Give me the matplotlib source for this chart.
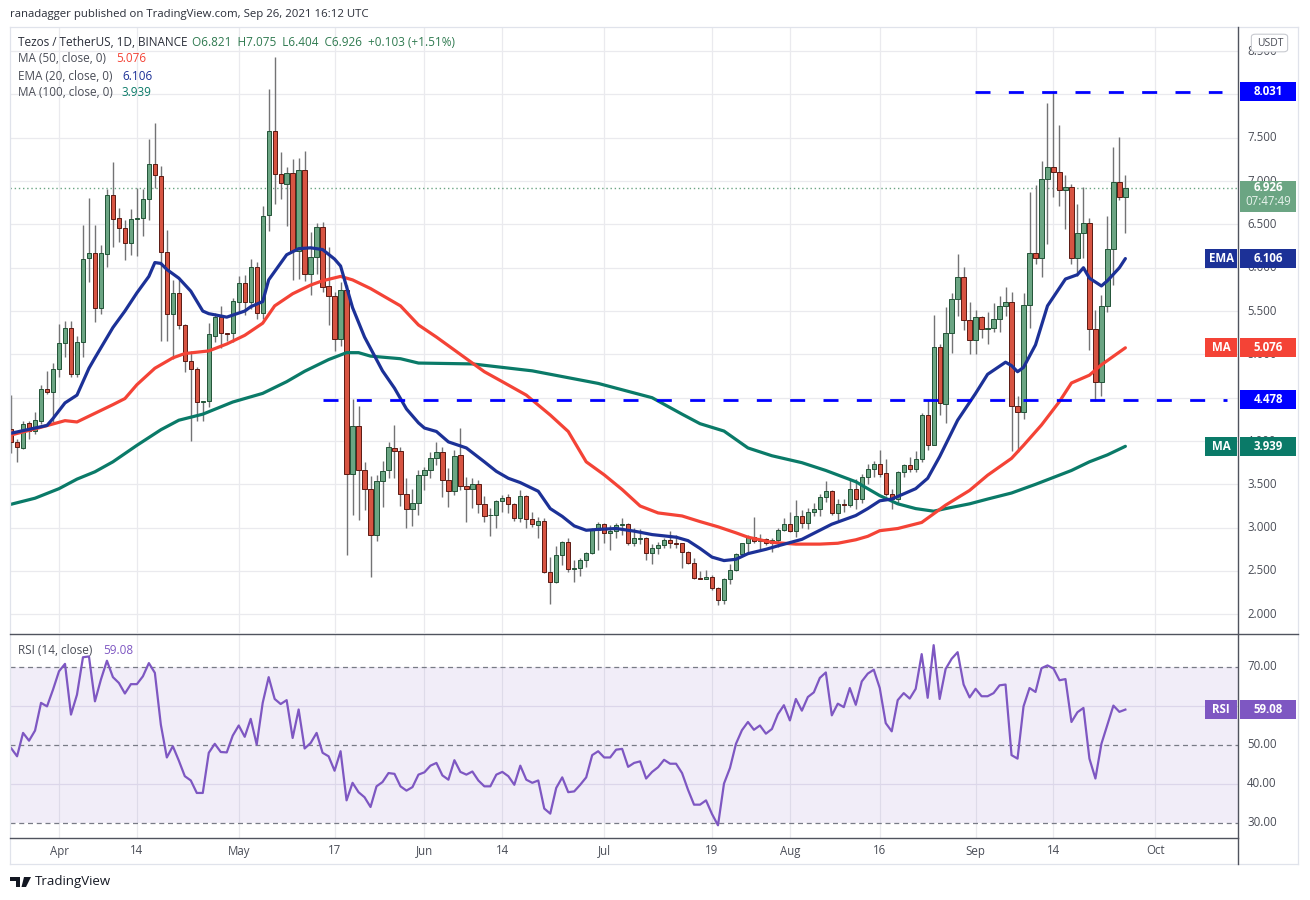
import matplotlib
matplotlib.use("Agg")
import matplotlib.pyplot as plt
import matplotlib.transforms as mtransforms
from matplotlib.patches import Rectangle, FancyBboxPatch, Polygon
import pandas as pd

plt.rcParams['font.family'] = ['Open Sans', 'DejaVu Sans']

# ---------------- data ----------------
dates = pd.date_range('2021-03-24', '2021-09-26', freq='D')

opens = [4.139, 3.993, 3.919, 4.208, 4.112, 4.235, 4.601, 4.563, 4.832, 5.133,
         5.306, 4.775, 5.141, 6.112, 6.170, 5.538, 6.162, 6.844, 6.578, 6.463,
         6.289, 6.567, 6.578, 6.798, 7.202, 7.060, 6.181, 5.461, 5.707, 5.341,
         4.921, 4.832, 4.455, 4.462, 5.211, 5.434, 5.250, 5.243, 5.610, 5.821,
         5.600, 6.008, 5.482, 6.606, 7.582, 7.084, 6.964, 7.096, 6.190, 7.127,
         5.932, 6.120, 6.470, 5.789, 5.673, 5.175, 5.741, 3.622, 4.179, 3.669,
         3.442, 2.912, 3.542, 3.669, 3.920, 3.880, 3.394, 3.211, 3.290, 3.608,
         3.665, 3.808, 3.869, 3.550, 3.423, 3.838, 3.480, 3.446, 3.504, 3.269,
         3.142, 3.146, 3.308, 3.350, 3.273, 3.108, 3.365, 3.100, 3.035, 3.077,
         2.485, 2.369, 2.685, 2.838, 2.523, 2.530, 2.627, 2.704, 2.973, 3.038,
         2.942, 2.960, 3.031, 3.046, 2.827, 2.865, 2.877, 2.704, 2.762, 2.796,
         2.854, 2.819, 2.819, 2.723, 2.588, 2.415, 2.412, 2.435, 2.300, 2.162,
         2.404, 2.512, 2.692, 2.819, 2.896, 2.846, 2.865, 2.819, 2.854, 2.969,
         3.038, 2.962, 3.135, 3.058, 3.185, 3.217, 3.353, 3.419, 3.170, 3.275,
         3.256, 3.442, 3.333, 3.585, 3.682, 3.733, 3.632, 3.390, 3.333, 3.643,
         3.721, 3.682, 3.791, 4.302, 3.953, 5.089, 4.430, 5.244, 5.640, 5.899,
         5.395, 5.163, 5.426, 5.290, 5.310, 5.407, 5.564, 5.602, 4.409, 4.332,
         5.575, 6.174, 6.116, 7.023, 7.158, 7.108, 6.896, 6.934, 6.108, 6.398,
         6.514, 5.297, 4.687, 5.564, 6.212, 6.992, 6.821]
highs = [4.536, 4.020, 4.235, 4.235, 4.339, 4.651, 4.813, 4.902, 5.353, 5.391,
         5.391, 5.218, 6.490, 6.809, 6.490, 6.258, 6.906, 7.222, 6.694, 6.547,
         6.682, 6.925, 6.906, 7.484, 7.676, 7.172, 6.432, 5.854, 5.854, 5.353,
         5.044, 4.852, 4.466, 5.364, 5.482, 5.562, 5.250, 5.653, 5.900, 5.920,
         6.100, 6.072, 6.717, 8.064, 8.430, 7.335, 7.163, 7.255, 7.263, 7.342,
         6.418, 6.518, 6.526, 6.239, 5.721, 5.840, 5.800, 4.486, 4.406, 3.757,
         3.598, 3.610, 3.769, 3.988, 4.187, 3.928, 3.578, 3.450, 3.665, 3.704,
         3.877, 3.990, 3.935, 3.692, 3.896, 4.146, 3.588, 3.569, 3.550, 3.369,
         3.230, 3.319, 3.377, 3.385, 3.281, 3.435, 3.377, 3.185, 3.127, 3.108,
         2.665, 2.792, 2.846, 2.885, 2.627, 2.646, 2.723, 2.992, 3.069, 3.050,
         3.030, 3.050, 3.115, 3.058, 2.992, 2.980, 2.892, 2.808, 2.835, 2.885,
         2.962, 2.915, 2.827, 2.731, 2.654, 2.500, 2.508, 2.454, 2.315, 2.423,
         2.577, 2.712, 2.827, 2.915, 3.123, 2.931, 2.885, 2.877, 2.992, 3.108,
         3.185, 3.315, 3.200, 3.223, 3.280, 3.390, 3.535, 3.430, 3.333, 3.326,
         3.566, 3.558, 3.624, 3.729, 3.767, 3.895, 3.798, 3.450, 3.651, 3.740,
         3.818, 3.888, 4.322, 4.477, 5.457, 5.124, 5.542, 5.705, 6.155, 6.008,
         5.609, 5.512, 5.446, 5.484, 5.593, 5.672, 5.776, 5.718, 4.514, 5.710,
         6.876, 6.958, 7.236, 7.900, 8.027, 7.653, 7.073, 6.965, 6.741, 6.934,
         6.571, 5.517, 5.683, 6.598, 7.398, 7.506, 7.075]
lows = [3.858, 3.754, 3.908, 4.023, 4.081, 4.197, 4.543, 4.216, 4.736, 4.967,
        4.736, 4.736, 4.967, 5.834, 5.372, 5.468, 6.008, 6.239, 6.297, 6.085,
        6.143, 6.131, 6.362, 6.547, 6.925, 5.160, 5.160, 4.948, 5.295, 4.794,
        4.004, 4.235, 4.235, 4.389, 5.143, 5.076, 5.160, 5.143, 5.482, 5.460,
        5.520, 5.410, 5.410, 6.430, 6.740, 6.797, 6.486, 5.860, 5.865, 5.849,
        5.681, 5.928, 5.721, 5.343, 5.036, 5.092, 2.685, 3.151, 3.092, 3.203,
        2.434, 2.841, 3.243, 3.570, 3.570, 3.250, 3.000, 3.020, 3.146, 3.435,
        3.569, 3.723, 3.358, 3.242, 3.377, 3.435, 3.069, 3.223, 3.165, 3.069,
        2.908, 2.992, 3.184, 3.173, 3.077, 3.069, 2.992, 3.012, 2.877, 2.473,
        2.115, 2.358, 2.569, 2.485, 2.377, 2.446, 2.550, 2.692, 2.742, 2.820,
        2.742, 2.877, 2.915, 2.800, 2.788, 2.808, 2.623, 2.585, 2.700, 2.769,
        2.762, 2.762, 2.538, 2.577, 2.404, 2.404, 2.404, 2.281, 2.108, 2.115,
        2.346, 2.504, 2.685, 2.723, 2.827, 2.750, 2.800, 2.723, 2.777, 2.962,
        2.954, 2.892, 3.000, 2.990, 3.140, 3.140, 3.295, 3.147, 3.093, 3.178,
        3.236, 3.217, 3.287, 3.508, 3.585, 3.585, 3.364, 3.217, 3.275, 3.585,
        3.643, 3.643, 3.760, 3.895, 3.953, 4.302, 4.213, 5.019, 5.446, 5.279,
        5.000, 5.000, 5.186, 5.116, 5.264, 5.259, 5.440, 3.884, 3.876, 4.255,
        5.305, 6.046, 5.896, 6.278, 6.819, 6.714, 6.444, 6.046, 5.903, 6.108,
        5.054, 4.463, 4.514, 5.490, 5.799, 6.780, 6.404]
closes = [3.985, 3.927, 4.197, 4.112, 4.243, 4.601, 4.563, 4.832, 5.133, 5.306,
          4.775, 5.141, 6.104, 6.170, 5.538, 6.170, 6.844, 6.567, 6.463, 6.289,
          6.567, 6.575, 6.798, 7.202, 7.068, 6.181, 5.461, 5.707, 5.334, 4.929,
          4.832, 4.447, 4.462, 5.237, 5.434, 5.251, 5.240, 5.614, 5.821, 5.600,
          6.008, 5.482, 6.598, 7.582, 7.084, 6.976, 7.096, 6.190, 7.127, 5.932,
          6.127, 6.470, 5.773, 5.673, 5.175, 5.741, 3.618, 4.179, 3.669, 3.442,
          2.912, 3.542, 3.657, 3.928, 3.880, 3.394, 3.211, 3.290, 3.608, 3.665,
          3.800, 3.869, 3.550, 3.423, 3.831, 3.480, 3.446, 3.504, 3.269, 3.135,
          3.146, 3.312, 3.346, 3.273, 3.108, 3.365, 3.100, 3.038, 3.080, 2.485,
          2.369, 2.685, 2.838, 2.523, 2.530, 2.627, 2.704, 2.973, 3.038, 2.942,
          2.960, 3.031, 3.042, 2.827, 2.877, 2.885, 2.704, 2.762, 2.796, 2.854,
          2.819, 2.815, 2.723, 2.588, 2.415, 2.412, 2.435, 2.300, 2.162, 2.404,
          2.512, 2.692, 2.819, 2.896, 2.846, 2.865, 2.819, 2.854, 2.969, 3.038,
          2.962, 3.135, 3.058, 3.185, 3.217, 3.353, 3.419, 3.170, 3.275, 3.256,
          3.442, 3.333, 3.585, 3.682, 3.740, 3.624, 3.390, 3.333, 3.643, 3.721,
          3.682, 3.791, 4.302, 3.953, 5.089, 4.438, 5.244, 5.640, 5.899, 5.395,
          5.163, 5.426, 5.290, 5.310, 5.407, 5.564, 5.602, 4.409, 4.332, 5.575,
          6.174, 6.116, 7.023, 7.158, 7.100, 6.896, 6.934, 6.116, 6.398, 6.514,
          5.297, 4.687, 5.564, 6.212, 6.992, 6.821, 6.926]

rsi = [49.2, 47.1, 53.1, 51.1, 53.7, 60.8, 59.9, 64.2, 68.9, 70.8,
       57.8, 62.9, 72.5, 72.7, 61.2, 66.8, 71.6, 67.4, 65.9, 63.2,
       65.6, 65.6, 67.6, 71.0, 68.5, 55.2, 46.8, 49.7, 46.0, 42.0,
       40.9, 37.7, 37.7, 48.0, 50.3, 48.2, 48.1, 52.4, 55.0, 52.1,
       56.7, 50.1, 60.8, 67.4, 61.8, 60.5, 61.5, 51.8, 59.1, 49.1,
       50.5, 53.1, 48.0, 47.1, 43.4, 48.4, 35.8, 40.3, 37.9, 36.6,
       34.1, 39.4, 40.5, 42.8, 42.6, 39.4, 38.3, 39.2, 42.4, 43.0,
       44.7, 45.4, 42.2, 41.1, 46.1, 43.1, 42.4, 43.2, 40.9, 39.4,
       39.4, 42.4, 43.1, 42.0, 39.8, 44.7, 41.1, 40.3, 40.9, 33.7,
       32.4, 39.0, 41.7, 37.9, 38.1, 39.8, 41.7, 47.4, 48.4, 46.8,
       46.8, 48.8, 49.0, 44.4, 45.4, 45.8, 41.4, 43.1, 44.3, 46.2,
       45.2, 45.2, 42.8, 38.5, 34.7, 34.7, 35.8, 32.3, 29.4, 40.1,
       44.1, 50.3, 53.8, 55.9, 53.9, 55.0, 52.9, 54.1, 57.9, 60.2,
       56.3, 61.8, 58.8, 62.3, 63.5, 67.2, 68.6, 57.6, 60.6, 59.7,
       64.6, 60.3, 66.3, 68.3, 69.3, 64.6, 55.6, 53.5, 61.5, 63.3,
       61.9, 64.4, 73.3, 62.1, 75.6, 61.8, 69.5, 72.1, 73.8, 65.5,
       62.2, 64.4, 62.5, 62.5, 63.3, 65.3, 65.5, 47.4, 46.5, 59.9,
       64.6, 63.6, 69.7, 70.4, 69.6, 66.6, 66.9, 55.9, 58.4, 59.5,
       46.5, 41.4, 50.3, 55.2, 60.1, 58.5, 59.08]

# indicator lines: (days after 1 Apr, value)
ema20_pts = [(-8, 4.09), (-2, 4.18), (-1, 4.26), (1, 4.44), (3, 4.53), (5, 4.84),
             (6, 4.96), (9, 5.31), (11, 5.50), (13, 5.71), (15, 5.90), (16, 6.06),
             (17, 6.05), (18, 5.98), (20, 5.88), (22, 5.73), (24, 5.50), (25, 5.47),
             (28, 5.43), (31, 5.50), (32, 5.55), (34, 5.61), (35, 5.86), (38, 6.15),
             (40, 6.22), (42, 6.23), (44, 6.21), (46, 6.10), (47, 6.02), (49, 5.54),
             (51, 5.20), (54, 4.81), (56, 4.61), (58, 4.37), (60, 4.21), (61, 4.15),
             (63, 4.11), (65, 3.99), (68, 3.92), (71, 3.76), (73, 3.65), (75, 3.57),
             (77, 3.52), (80, 3.42), (82, 3.22), (84, 3.13), (86, 3.02), (88, 2.97),
             (90, 2.98), (93, 2.99), (96, 2.96), (99, 2.92), (103, 2.89), (105, 2.85),
             (107, 2.76), (109, 2.66), (111, 2.62), (113, 2.635), (115, 2.70),
             (118, 2.75), (120, 2.79), (124, 2.865), (127, 2.97), (129, 3.04),
             (133, 3.14), (135, 3.22), (137, 3.31), (139, 3.33), (143, 3.45),
             (145, 3.57), (147, 3.82), (150, 4.24), (153, 4.55), (155, 4.77),
             (158, 4.91), (159, 4.87), (160, 4.80), (161, 4.85), (163, 5.11),
             (165, 5.56), (168, 5.87), (170, 5.92), (171, 6.00), (172, 5.88),
             (174, 5.79), (175, 5.85), (177, 6.00), (178, 6.106)]
ma50_pts = [(-8, 4.07), (-4, 4.14), (1, 4.235), (3, 4.22), (6, 4.32), (9, 4.42),
            (11, 4.49), (13, 4.65), (16, 4.84), (19, 4.96), (21, 5.01), (25, 5.04),
            (28, 5.12), (31, 5.22), (34, 5.36), (36, 5.56), (39, 5.70), (42, 5.80),
            (44, 5.85), (47, 5.90), (49, 5.86), (52, 5.76), (57, 5.56), (60, 5.34),
            (63, 5.20), (66, 5.05), (69, 4.90), (71, 4.80), (74, 4.685), (78, 4.53),
            (82, 4.30), (85, 4.11), (88, 3.76), (91, 3.61), (94, 3.44), (97, 3.25),
            (100, 3.17), (104, 3.135), (107, 3.07), (110, 3.01), (113, 2.94),
            (115, 2.89), (119, 2.83), (123, 2.81), (127, 2.81), (130, 2.82),
            (133, 2.86), (135, 2.90), (137, 2.965), (140, 2.99), (144, 3.06),
            (146, 3.16), (148, 3.26), (152, 3.43), (155, 3.605), (159, 3.80),
            (161, 3.95), (164, 4.185), (167, 4.456), (169, 4.67), (172, 4.76),
            (174, 4.88), (178, 5.076)]
ma100_pts = [(-8, 3.27), (-4, 3.34), (0, 3.45), (3, 3.56), (6, 3.645), (9, 3.76),
             (13, 3.95), (17, 4.13), (20, 4.24), (24, 4.31), (29, 4.45), (34, 4.55),
             (38, 4.685), (41, 4.805), (45, 4.94), (48, 5.02), (50, 5.02), (52, 4.98),
             (57, 4.95), (60, 4.90), (69, 4.89), (79, 4.81), (90, 4.665), (99, 4.50),
             (104, 4.31), (107, 4.20), (111, 4.115), (115, 3.92), (119, 3.83),
             (124, 3.75), (128, 3.66), (133, 3.53), (137, 3.37), (140, 3.275),
             (143, 3.22), (146, 3.19), (148, 3.22), (152, 3.275), (155, 3.33),
             (159, 3.40), (163, 3.50), (166, 3.58), (169, 3.66), (172, 3.76),
             (175, 3.84), (178, 3.939)]

support = 4.478
resistance = 8.031
last_price = 6.926
tick_dates = ['2021-04-01', '2021-04-14', '2021-05-01', '2021-05-17', '2021-06-01',
              '2021-06-14', '2021-07-01', '2021-07-19', '2021-08-01', '2021-08-16',
              '2021-09-01', '2021-09-14', '2021-10-01']
tick_labels = ['Apr', '14', 'May', '17', 'Jun', '14', 'Jul', '19', 'Aug', '16',
               'Sep', '14', 'Oct']
price_ticks = [2.0, 2.5, 3.0, 3.5, 4.0, 4.5, 5.0, 5.5, 6.0, 6.5, 7.0, 7.5, 8.0, 8.5]
rsi_ticks = [30, 40, 50, 60, 70]
# scale labels that sit fully under a value box in the reference
hidden_prices = [8.0, 4.5]
hidden_rsi = [60]

# ---------------- styling ----------------
UP, UP_EDGE = '#6ba583', '#225437'
DOWN, DOWN_EDGE = '#d75442', '#5b1a13'
WICK = '#737375'
C_EMA, C_MA50, C_MA100 = '#1c3197', '#f44336', '#0a7a68'
C_LVL = '#0000ff'
C_RSI = '#7e57c2'
GRID = '#eaeaee'
TXT = '#4a4d57'

W, H = 1310, 900
fig = plt.figure(figsize=(13.1, 9), dpi=100)
fig.patch.set_facecolor('white')


def fx(px):
    return px / W


def fy(py):
    return 1 - py / H


L, R = 10, 1238
ax = fig.add_axes([fx(L), fy(633), (R - L) / W, (633 - 27) / H])
ax2 = fig.add_axes([fx(L), fy(838), (R - L) / W, (838 - 634) / H])

APR1 = pd.Timestamp('2021-04-01')
x = (dates - APR1).days.values
xt = [(pd.Timestamp(t) - APR1).days for t in tick_dates]

for a in (ax, ax2):
    a.set_xlim(-8.18, 196.8)
    for s in a.spines.values():
        s.set_visible(False)
    a.set_xticks([])
    a.set_yticks([])
    for v in xt:
        a.axvline(v, color=GRID, lw=0.9, zorder=0)

ax.set_ylim(1.784, 8.779)
ax2.set_ylim(26.15, 78.46)

for p in price_ticks:
    ax.axhline(p, color=GRID, lw=0.9, zorder=0)

# candles
for xi, o, h, l, c in zip(x, opens, highs, lows, closes):
    up = c >= o
    ax.vlines(xi, l, h, color=WICK, lw=1.0, zorder=2)
    ax.bar(xi, max(abs(c - o), 0.008), bottom=min(o, c), width=0.72,
           color=UP if up else DOWN, edgecolor=UP_EDGE if up else DOWN_EDGE,
           linewidth=0.7, zorder=3)

# moving averages
for pts, col in ((ma100_pts, C_MA100), (ma50_pts, C_MA50), (ema20_pts, C_EMA)):
    ax.plot([p[0] for p in pts], [p[1] for p in pts], color=col, lw=2.3,
            solid_joinstyle='round', solid_capstyle='round', zorder=4)

# horizontal levels
lvl_dash = (0, (5.4, 6.6))
ax.plot([152.9, 194.2], [resistance, resistance], color=C_LVL, lw=2.0,
        linestyle=lvl_dash, zorder=5)
ax.plot([44.0, 195.0], [support, support], color=C_LVL, lw=2.0,
        linestyle=lvl_dash, zorder=5)
ax.axhline(last_price, color=UP, lw=1.0, linestyle=(0, (1, 2)), zorder=1)

# RSI panel
ax2.axhspan(30, 70, color=C_RSI, alpha=0.1, lw=0, zorder=0)
for v in (40, 60):
    ax2.axhline(v, color='#dcd6ea', lw=0.9, zorder=1)
for v in (30, 50, 70):
    ax2.axhline(v, color='#787b86', lw=0.9, linestyle=(0, (4, 3)), zorder=1)
ax2.plot(x, rsi, color=C_RSI, lw=1.6, zorder=3)

# ---------------- right price scale ----------------
tr = mtransforms.blended_transform_factory(ax.transAxes, ax.transData)
tr2 = mtransforms.blended_transform_factory(ax2.transAxes, ax2.transData)
xlab = (1247 - L) / (R - L)
for p in price_ticks:
    if p in hidden_prices:
        continue
    ax.text(xlab, p, f'{p:.3f}', transform=tr, fontsize=8.3, color=TXT,
            va='center', ha='left', clip_on=False)
for v in rsi_ticks:
    if v in hidden_rsi:
        continue
    ax2.text(xlab, v, f'{v:.2f}', transform=tr2, fontsize=8.3, color=TXT,
             va='center', ha='left', clip_on=False)


def val_box(axis, trans, y, hgt, text, col, tag=None):
    x0 = (1240 - L) / (R - L)
    w = 56 / (R - L)
    axis.add_patch(Rectangle((x0, y - hgt / 2), w, hgt, transform=trans,
                             facecolor=col, edgecolor='none', clip_on=False, zorder=10))
    axis.text(x0 + w / 2, y, text, transform=trans, color='white', fontsize=8.3,
              fontweight='bold', ha='center', va='center', clip_on=False, zorder=11)
    if tag:
        tx0 = (1205 - L) / (R - L)
        tw = 32 / (R - L)
        axis.add_patch(Rectangle((tx0, y - hgt / 2), tw, hgt, transform=trans,
                                 facecolor=col, edgecolor='none', clip_on=False, zorder=10))
        axis.text(tx0 + tw / 2, y, tag, transform=trans, color='white', fontsize=8.3,
                  fontweight='bold', ha='center', va='center', clip_on=False, zorder=11)


bh = 19 / 86.49
val_box(ax, tr, resistance, bh, f'{resistance:.3f}', C_LVL)
val_box(ax, tr, support, bh, f'{support:.3f}', C_LVL)
val_box(ax, tr, ema20_pts[-1][1], bh, f'{ema20_pts[-1][1]:.3f}', C_EMA, 'EMA')
val_box(ax, tr, ma50_pts[-1][1], bh, f'{ma50_pts[-1][1]:.3f}', C_MA50, 'MA')
val_box(ax, tr, ma100_pts[-1][1], bh, f'{ma100_pts[-1][1]:.3f}', C_MA100, 'MA')
val_box(ax2, tr2, rsi[-1], 19 / 3.9, f'{rsi[-1]:.2f}', C_RSI, 'RSI')

# last price box with countdown
lx0 = (1240 - L) / (R - L)
lw_ = 56 / (R - L)
ax.add_patch(Rectangle((lx0, last_price - 0.10 - 16 / 86.49), lw_, 31 / 86.49,
                       transform=tr, facecolor=UP, edgecolor='none',
                       clip_on=False, zorder=10))
ax.text(lx0 + lw_ / 2, last_price, f'{last_price:.3f}', transform=tr, color='white',
        fontsize=8.3, fontweight='bold', ha='center', va='center', clip_on=False, zorder=11)
ax.text(lx0 + lw_ / 2, last_price - 14 / 86.49, '07:47:49', transform=tr,
        color='#e8f3ec', fontsize=8.3, ha='center', va='center', clip_on=False, zorder=11)

# USDT badge
fig.patches.append(FancyBboxPatch((fx(1254), fy(50)), 31 / W, 14 / H,
                                  boxstyle='round,pad=0.002,rounding_size=0.003',
                                  transform=fig.transFigure, facecolor='white',
                                  edgecolor='#c8cad0', lw=0.8, zorder=20))
fig.text(fx(1270), fy(43), 'USDT', fontsize=7.5, color=TXT, ha='center', va='center',
         zorder=21)

# ---------------- time axis ----------------
ttr = mtransforms.blended_transform_factory(ax2.transData, fig.transFigure)
for v, lab in zip(xt, tick_labels):
    ax2.text(v, fy(851), lab, transform=ttr, fontsize=8.3, color=TXT,
             ha='center', va='center', clip_on=False)


# ---------------- frame lines ----------------
def hline(py, x0, x1, col, lw=0.9):
    fig.add_artist(plt.Line2D([fx(x0), fx(x1)], [fy(py), fy(py)], color=col, lw=lw,
                              transform=fig.transFigure))


def vline(px, y0, y1, col, lw=0.9):
    fig.add_artist(plt.Line2D([fx(px), fx(px)], [fy(y0), fy(y1)], color=col, lw=lw,
                              transform=fig.transFigure))


FRAME = '#e0e3eb'
hline(27, 10, 1298, FRAME)
hline(864, 10, 1298, FRAME)
vline(10, 27, 864, FRAME)
vline(1298, 27, 864, FRAME)
hline(633.5, 10, 1298, '#50535e', 1.0)
hline(838, 10, 1238, '#50535e', 1.0)
vline(1238, 27, 864, '#50535e', 1.0)

# ---------------- legends and header ----------------
fig.text(fx(10), fy(15), 'ranadagger published on TradingView.com, Sep 26, 2021 16:12 UTC',
         fontsize=8.2, color='#2a2e39', va='center')
fig.text(fx(18), fy(42), 'Tezos / TetherUS, 1D, BINANCE', fontsize=8.5, color='#2a2e39',
         va='center')
fig.text(fx(192), fy(42),
         'O6.821  H7.075  L6.404  C6.926  +0.103 (+1.51%)',
         fontsize=8.5, color='#2f7a50', va='center')
legend_rows = [(59, 'MA (50, close, 0)', f'{ma50_pts[-1][1]:.3f}', C_MA50, 116),
               (76, 'EMA (20, close, 0)', f'{ema20_pts[-1][1]:.3f}', C_EMA, 122),
               (92, 'MA (100, close, 0)', f'{ma100_pts[-1][1]:.3f}', C_MA100, 122)]
for py, lab, val, col, vx in legend_rows:
    fig.text(fx(18), fy(py), lab, fontsize=8.5, color=TXT, va='center')
    fig.text(fx(vx), fy(py), val, fontsize=8.5, color=col, va='center')
fig.text(fx(18), fy(651), 'RSI (14, close)', fontsize=8.5, color=TXT, va='center')
fig.text(fx(103), fy(651), f'{rsi[-1]:.2f}', fontsize=8.5, color=C_RSI, va='center')

# TradingView mark
fig.patches.append(Polygon([[fx(10), fy(877)], [fx(20), fy(877)], [fx(20), fy(887)],
                            [fx(16), fy(887)], [fx(16), fy(880.5)], [fx(10), fy(880.5)]],
                           closed=True, transform=fig.transFigure, facecolor='#131722'))
fig.patches.append(Polygon([[fx(24), fy(877)], [fx(31), fy(877)], [fx(26), fy(887)],
                            [fx(21.5), fy(887)]],
                           closed=True, transform=fig.transFigure, facecolor='#131722'))
fig.text(fx(35), fy(882), 'TradingView', fontsize=9.5, color='#131722', va='center')

fig.savefig('out.png', dpi=100, facecolor='white')
